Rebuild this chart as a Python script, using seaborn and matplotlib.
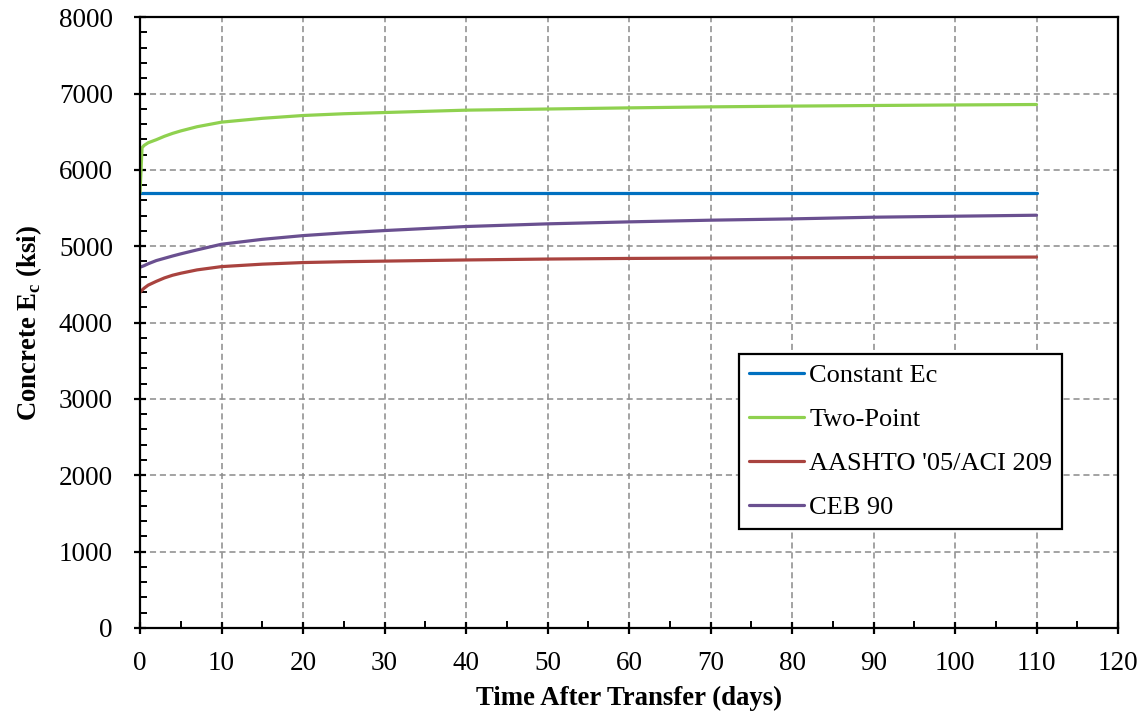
import numpy as np
import pandas as pd
import seaborn as sns
import matplotlib.pyplot as plt
from matplotlib.ticker import MultipleLocator

# time after transfer (days)
days = [0, 0.25, 0.5, 1, 2, 3, 4, 5, 7, 10, 15, 20, 25, 30, 40, 50, 60, 70, 80, 90, 100, 110]

# concrete modulus (ksi)
constant_ec = [5700] * len(days)
two_point = [5700, 6290, 6320, 6355, 6395, 6440, 6478, 6510, 6565, 6625, 6675, 6712, 6735, 6751,
             6782, 6797, 6812, 6825, 6835, 6843, 6850, 6856]
aashto = [4395, 4425, 4450, 4490, 4540, 4585, 4620, 4646, 4690, 4733, 4765, 4786, 4797, 4805,
          4820, 4832, 4840, 4845, 4849, 4852, 4855, 4858]
ceb90 = [4725, 4735, 4745, 4770, 4812, 4842, 4872, 4900, 4952, 5026, 5090, 5139, 5175, 5205,
         5258, 5293, 5319, 5341, 5358, 5380, 5393, 5406]

labels = ['Constant Ec', 'Two-Point', "AASHTO '05/ACI 209", 'CEB 90']
colors = ['#0070C0', '#8FD14F', '#A9433F', '#6A5090']

frames = []
for lab, vals in zip(labels, [constant_ec, two_point, aashto, ceb90]):
    frames.append(pd.DataFrame({'Time': days, 'Ec': vals, 'Model': lab}))
df = pd.concat(frames, ignore_index=True)

sns.set_style('white')
plt.rcParams['font.family'] = ['Liberation Serif', 'DejaVu Serif']
plt.rcParams['text.color'] = 'black'
plt.rcParams['axes.labelcolor'] = 'black'
plt.rcParams['mathtext.fontset'] = 'custom'
plt.rcParams['mathtext.rm'] = 'Liberation Serif'
plt.rcParams['mathtext.bf'] = 'Liberation Serif:bold'

fig = plt.figure(figsize=(11.42, 7.15), dpi=100)
ax = fig.add_axes([0.1226, 0.1217, 0.8564, 0.8543])

sns.lineplot(data=df, x='Time', y='Ec', hue='Model', hue_order=labels,
             palette=colors, linewidth=2.3, sort=False, estimator=None, ax=ax)

ax.set_xlim(0, 120)
ax.set_ylim(0, 8000)
ax.xaxis.set_major_locator(MultipleLocator(10))
ax.xaxis.set_minor_locator(MultipleLocator(5))
ax.yaxis.set_major_locator(MultipleLocator(1000))
ax.yaxis.set_minor_locator(MultipleLocator(200))

ax.grid(True, which='major', color='#8a8a8a', linestyle=(0, (4, 2.5)), linewidth=1.1)
ax.set_axisbelow(True)

for s in ax.spines.values():
    s.set_color('black')
    s.set_linewidth(1.6)

ax.tick_params(which='major', direction='inout', length=9, width=1.6, labelsize=19.5,
               colors='black', labelcolor='black')
ax.tick_params(axis='x', which='major', pad=12)
ax.tick_params(axis='y', which='major', pad=15)
ax.tick_params(which='minor', direction='in', length=5, width=1.4, colors='black')
ax.tick_params(axis='x', which='both', bottom=True)
ax.tick_params(axis='y', which='both', left=True)

ax.set_xlabel('Time After Transfer (days)', fontsize=19.3, fontweight='bold', labelpad=7)
ax.set_ylabel(r'Concrete E$_\mathbf{c}$ (ksi)', fontsize=19.3, fontweight='bold', labelpad=11)

leg = ax.legend(loc='upper left', bbox_to_anchor=(0.612, 0.449), fontsize=19,
                frameon=True, fancybox=False, edgecolor='black', framealpha=1,
                handlelength=2.1, handletextpad=0.2, labelspacing=0.78,
                borderpad=0.38, borderaxespad=0)
leg.get_frame().set_linewidth(1.6)
for line in leg.get_lines():
    line.set_linewidth(2.3)
for t in leg.get_texts():
    t.set_color('black')

fig.savefig('out.png', dpi=100)
